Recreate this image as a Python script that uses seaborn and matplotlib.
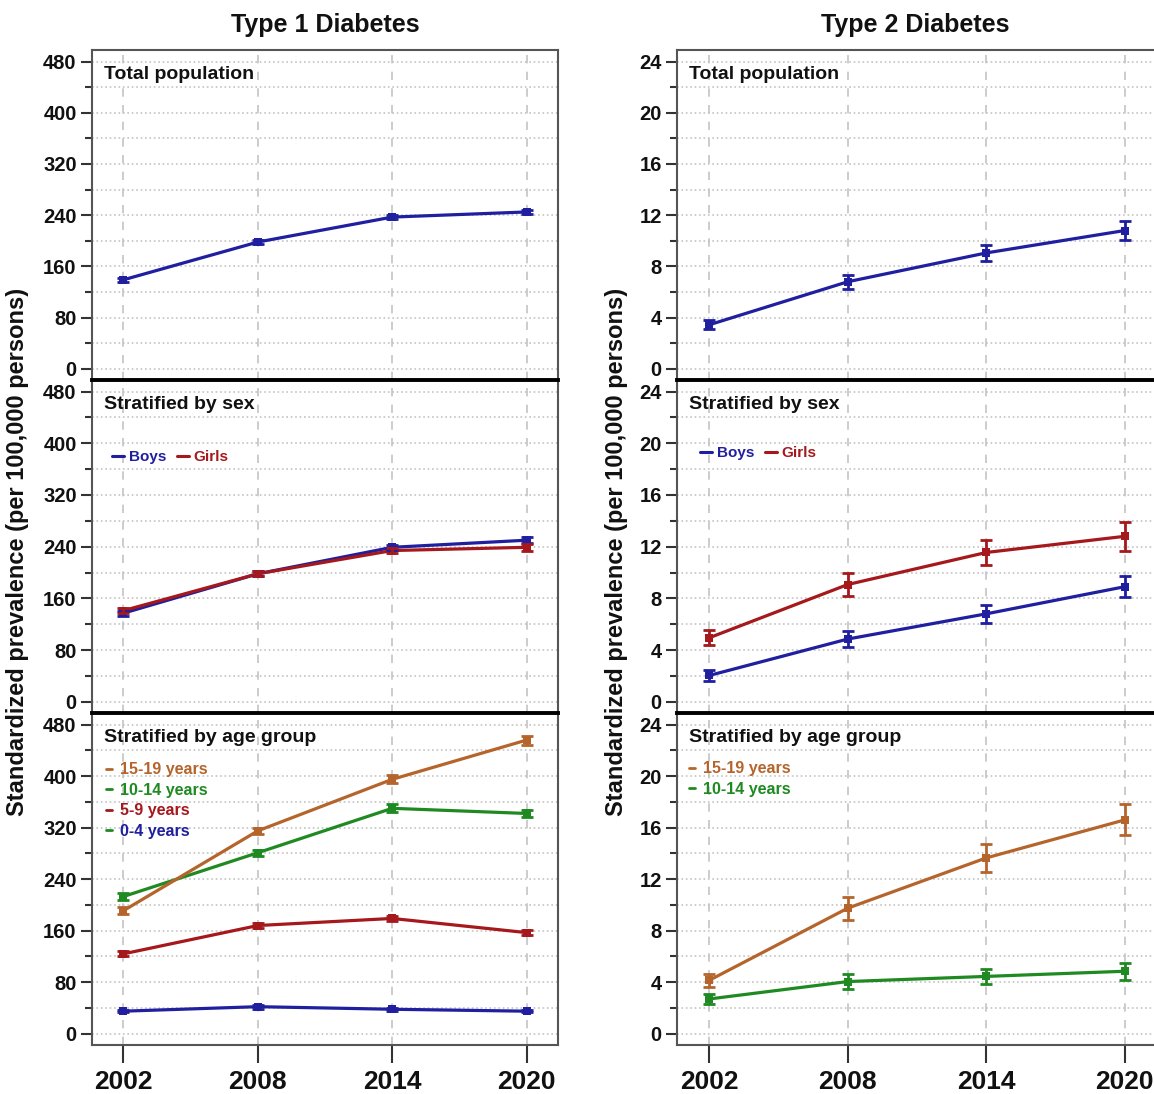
import numpy as np
import pandas as pd
import matplotlib
matplotlib.use('Agg')
import seaborn as sns
import matplotlib.pyplot as plt
from matplotlib.lines import Line2D
from matplotlib.ticker import MultipleLocator

years = [2002, 2008, 2014, 2020]

# Type 1 diabetes (per 100,000)
t1_total = [139, 198, 237, 245]
t1_total_err = [3, 3, 3, 3]
t1_boys = [137, 198, 239, 250]
t1_boys_err = [4, 4, 4, 5]
t1_girls = [141, 198, 234, 239]
t1_girls_err = [4, 4, 4, 5]
t1_age_15_19 = [191, 315, 395, 456]
t1_age_15_19_err = [5, 5, 6, 7]
t1_age_10_14 = [213, 281, 350, 342]
t1_age_10_14_err = [5, 5, 6, 6]
t1_age_5_9 = [124, 168, 179, 157]
t1_age_5_9_err = [4, 4, 4, 4]
t1_age_0_4 = [35, 42, 38, 35]
t1_age_0_4_err = [2, 3, 2, 2]

# Type 2 diabetes (per 100,000)
t2_total = [3.44, 6.8, 9.05, 10.8]
t2_total_err = [0.35, 0.55, 0.65, 0.75]
t2_boys = [2.03, 4.85, 6.8, 8.9]
t2_boys_err = [0.4, 0.6, 0.7, 0.8]
t2_girls = [4.95, 9.07, 11.55, 12.8]
t2_girls_err = [0.6, 0.9, 1.0, 1.1]
t2_age_15_19 = [4.15, 9.75, 13.65, 16.6]
t2_age_15_19_err = [0.5, 0.9, 1.1, 1.2]
t2_age_10_14 = [2.7, 4.05, 4.45, 4.85]
t2_age_10_14_err = [0.4, 0.55, 0.6, 0.65]

blue = '#1f1fa0'
red = '#a5181c'
orange = '#b5652b'
green = '#1f8a22'

sns.set_theme(style='white')
plt.rcParams['font.family'] = ['Liberation Sans', 'DejaVu Sans']
plt.rcParams['font.weight'] = 'bold'
plt.rcParams['text.color'] = '#111111'
plt.rcParams['xtick.labelcolor'] = '#111111'
plt.rcParams['ytick.labelcolor'] = '#111111'

W, H = 1154, 1094
fig = plt.figure(figsize=(W / 100, H / 100), dpi=100)


def px_axes(x0, x1, y0, y1):
    return fig.add_axes([x0 / W, 1 - y1 / H, (x1 - x0) / W, (y1 - y0) / H])


def make_df(series):
    rows = []
    for name, vals, errs in series:
        for y, v, e in zip(years, vals, errs):
            rows.append({'year': y, 'value': v, 'err': e, 'group': name})
    return pd.DataFrame(rows)


def draw(ax, series, colors):
    df = make_df(series)
    sns.lineplot(data=df, x='year', y='value', hue='group', palette=colors,
                 marker='s', markersize=5.5, markeredgewidth=0, linewidth=2.3,
                 legend=False, ax=ax, zorder=3)
    for name, c in colors.items():
        d = df[df.group == name]
        ax.errorbar(d.year, d.value, yerr=d.err, fmt='none', ecolor=c,
                    elinewidth=2, capsize=4, capthick=2, zorder=3)


cols = [(92, 558), (677, 1157)]
rows = [(50, 380), (380, 713), (713, 1045)]
scales = [1.0, 1 / 20]

panels = [
    [
        [('Total', t1_total, t1_total_err)],
        [('Boys', t1_boys, t1_boys_err), ('Girls', t1_girls, t1_girls_err)],
        [('0-4', t1_age_0_4, t1_age_0_4_err), ('5-9', t1_age_5_9, t1_age_5_9_err),
         ('10-14', t1_age_10_14, t1_age_10_14_err), ('15-19', t1_age_15_19, t1_age_15_19_err)],
    ],
    [
        [('Total', t2_total, t2_total_err)],
        [('Boys', t2_boys, t2_boys_err), ('Girls', t2_girls, t2_girls_err)],
        [('10-14', t2_age_10_14, t2_age_10_14_err), ('15-19', t2_age_15_19, t2_age_15_19_err)],
    ],
]
palette = {'Total': blue, 'Boys': blue, 'Girls': red,
           '0-4': blue, '5-9': red, '10-14': green, '15-19': orange}
panel_titles = ['Total population', 'Stratified by sex', 'Stratified by age group']

for ci, (x0, x1) in enumerate(cols):
    s = scales[ci]
    for ri, (y0, y1) in enumerate(rows):
        ax = px_axes(x0, x1, y0, y1)
        series = panels[ci][ri]
        draw(ax, series, {n: palette[n] for n, _, _ in series})
        ax.set_xlim(2000.6, 2021.4)
        ax.set_ylim(-17.5 * s, 498 * s)
        ax.yaxis.set_major_locator(MultipleLocator(80 * s))
        ax.yaxis.set_minor_locator(MultipleLocator(40 * s))
        ax.set_xticks(years)
        ax.grid(which='both', axis='y', linestyle=':', color='#c4c4c4', linewidth=1.2)
        ax.grid(which='major', axis='x', linestyle=(0, (5, 5)), color='#c4c4c4', linewidth=1.2)
        ax.set_xlabel('')
        ax.set_ylabel('')
        ax.tick_params(axis='y', which='major', direction='out', length=8, width=1.5,
                       color='#333333', labelsize=14.5, left=True, pad=3)
        ax.tick_params(axis='y', which='minor', direction='out', length=5, width=1.5,
                       color='#333333', left=True)
        if ri == 2:
            ax.tick_params(axis='x', direction='out', length=13, width=1.5,
                           color='#333333', labelsize=19, bottom=True, pad=5)
        else:
            ax.tick_params(axis='x', length=0, labelbottom=False)
        for side in ['left', 'right', 'bottom', 'top']:
            ax.spines[side].set_color('#555555')
            ax.spines[side].set_linewidth(1.5)
        if ri > 0:
            ax.spines['top'].set_color('black')
            ax.spines['top'].set_linewidth(2.8)
        if ri < 2:
            ax.spines['bottom'].set_visible(False)
        if ci == 1:
            ax.spines['right'].set_visible(False)
        ax.text(0.026, 1 - 24 / (y1 - y0), panel_titles[ri], transform=ax.transAxes,
                fontsize=14, va='center', ha='left', color='#111111')

        if ri == 1:
            lx = (112 - 92) if ci == 0 else (700 - 677)
            ly = (457 - 380) if ci == 0 else (453 - 380)
            handles = [Line2D([], [], color=blue, lw=2.2), Line2D([], [], color=red, lw=2.2)]
            ax.legend(handles, ['Boys', 'Girls'], loc='center left',
                      bbox_to_anchor=(lx / (x1 - x0), 1 - ly / (y1 - y0)),
                      ncol=2, frameon=False, fontsize=11, handlelength=0.8,
                      handletextpad=0.3, columnspacing=0.7, borderpad=0, borderaxespad=0,
                      labelcolor=[blue, red])
        if ri == 2:
            if ci == 0:
                labs = ['15-19 years', '10-14 years', '5-9 years', '0-4 years']
                hcols = [orange, green, red, green]
                tcols = [orange, green, red, blue]
                ymid = 800.5 - y0
                xoff = 14
            else:
                labs = ['15-19 years', '10-14 years']
                hcols = [orange, green]
                tcols = [orange, green]
                ymid = 779 - y0
                xoff = 12
            handles = [Line2D([], [], color=c, lw=2) for c in hcols]
            ax.legend(handles, labs, loc='center left',
                      bbox_to_anchor=(xoff / (x1 - x0), 1 - ymid / (y1 - y0)),
                      frameon=False, fontsize=11.5, handlelength=0.4, handletextpad=0.5,
                      labelspacing=0.35, borderpad=0, borderaxespad=0, labelcolor=tcols)

fig.text(0.5 * (92 + 558) / W, 1 - 25 / H, 'Type 1 Diabetes', ha='center', va='center', fontsize=18)
fig.text(0.5 * (677 + 1154) / W, 1 - 25 / H, 'Type 2 Diabetes', ha='center', va='center', fontsize=18)
ylab = 'Standardized prevalence (per 100,000 persons)'
fig.text(18 / W, 1 - 552 / H, ylab, rotation=90, ha='center', va='center', fontsize=17)
fig.text(617 / W, 1 - 552 / H, ylab, rotation=90, ha='center', va='center', fontsize=17)

fig.savefig('out.png', dpi=100, facecolor='white')
